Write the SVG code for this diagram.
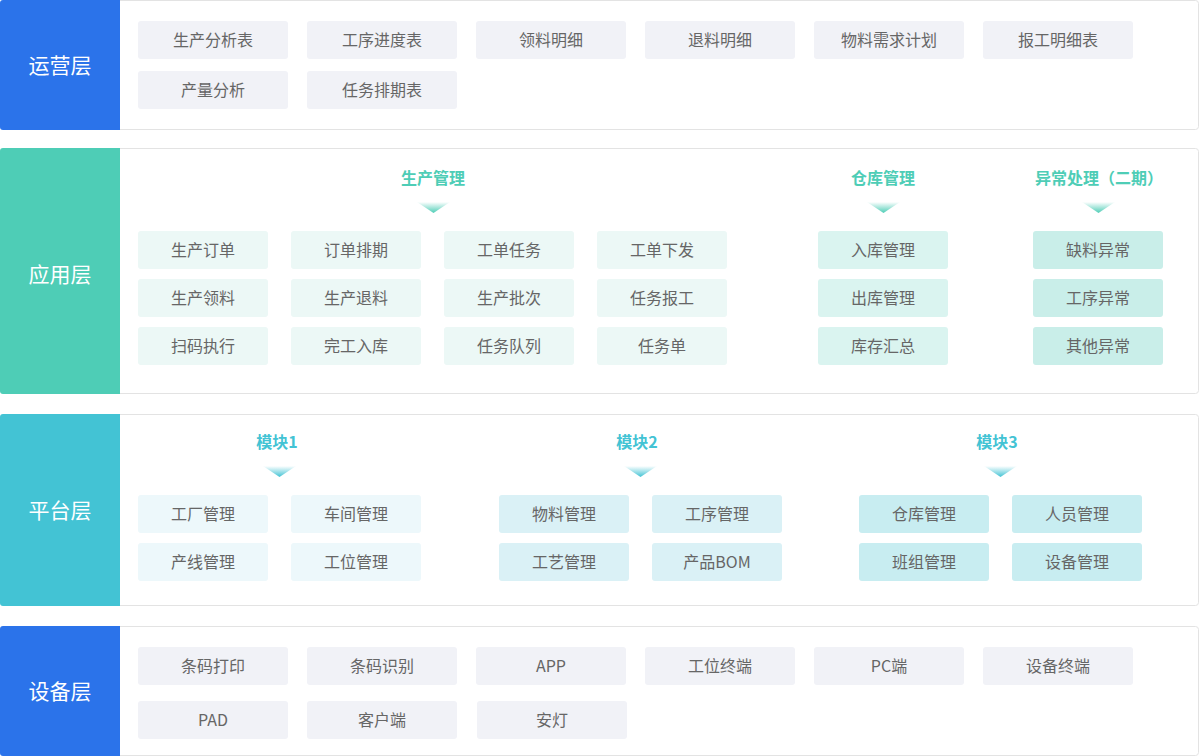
<svg xmlns="http://www.w3.org/2000/svg" width="1200" height="756" viewBox="0 0 1200 756">
<defs>
<style>
text{font-family:"Noto Sans CJK SC","Noto Sans",sans-serif;}
.frame{fill:#fff;stroke:#e3e3e3;stroke-width:1;}
.lab{fill:#fff;font-size:21px;text-anchor:middle;dominant-baseline:central;}
.t{fill:#666;font-size:16px;text-anchor:middle;dominant-baseline:central;}
.hg{fill:#4ecdb6;font-size:16px;font-weight:bold;text-anchor:middle;dominant-baseline:central;}
.hc{fill:#43c3d4;font-size:16px;font-weight:bold;text-anchor:middle;dominant-baseline:central;}
.g{fill:#f1f2f7;}
.a1{fill:#ecf8f6;}
.a2{fill:#daf4f0;}
.a3{fill:#c9eee9;}
.p1{fill:#edf8fb;}
.p2{fill:#daf1f6;}
.p3{fill:#c8edf1;}
</style>
<linearGradient id="gg" x1="0" y1="0" x2="0" y2="1">
<stop offset="0" stop-color="#4ecdb6" stop-opacity="0"/>
<stop offset="1" stop-color="#4ecdb6" stop-opacity="1"/>
</linearGradient>
<linearGradient id="gc" x1="0" y1="0" x2="0" y2="1">
<stop offset="0" stop-color="#43c3d4" stop-opacity="0"/>
<stop offset="1" stop-color="#43c3d4" stop-opacity="1"/>
</linearGradient>
</defs>

<!-- 运营层 -->
<g id="layer-ops">
<rect class="frame" x="100.5" y="0.5" width="1098" height="129" rx="3"/>
<path d="M3 0H120V130H3A3 3 0 0 1 0 127V3A3 3 0 0 1 3 0Z" fill="#2b73ea"/>
<text class="lab" x="60" y="64">运营层</text>
<g id="ops-1"><rect class="g" x="138" y="21" width="150" height="38" rx="3"/><text class="t" x="213" y="39">生产分析表</text></g>
<g id="ops-2"><rect class="g" x="307" y="21" width="150" height="38" rx="3"/><text class="t" x="382" y="39">工序进度表</text></g>
<g id="ops-3"><rect class="g" x="476" y="21" width="150" height="38" rx="3"/><text class="t" x="551" y="39">领料明细</text></g>
<g id="ops-4"><rect class="g" x="645" y="21" width="150" height="38" rx="3"/><text class="t" x="720" y="39">退料明细</text></g>
<g id="ops-5"><rect class="g" x="814" y="21" width="150" height="38" rx="3"/><text class="t" x="889" y="39">物料需求计划</text></g>
<g id="ops-6"><rect class="g" x="983" y="21" width="150" height="38" rx="3"/><text class="t" x="1058" y="39">报工明细表</text></g>
<g id="ops-7"><rect class="g" x="138" y="71" width="150" height="38" rx="3"/><text class="t" x="213" y="89">产量分析</text></g>
<g id="ops-8"><rect class="g" x="307" y="71" width="150" height="38" rx="3"/><text class="t" x="382" y="89">任务排期表</text></g>
</g>

<!-- 应用层 -->
<g id="layer-app">
<rect class="frame" x="100.5" y="148.5" width="1098" height="245" rx="3"/>
<path d="M3 148H120V394H3A3 3 0 0 1 0 391V151A3 3 0 0 1 3 148Z" fill="#4ecdb6"/>
<text class="lab" x="60" y="273">应用层</text>
<text class="hg" x="433" y="177">生产管理</text>
<text class="hg" x="883" y="177">仓库管理</text>
<text class="hg" x="1099" y="177">异常处理（二期）</text>
<path d="M417 202H450L433.5 213Z" fill="url(#gg)"/>
<path d="M867 202H900L883.5 213Z" fill="url(#gg)"/>
<path d="M1082 202H1115L1098.5 213Z" fill="url(#gg)"/>
<g id="app-1"><rect class="a1" x="138" y="231" width="130" height="38" rx="3"/><text class="t" x="203" y="249">生产订单</text></g>
<g id="app-2"><rect class="a1" x="291" y="231" width="130" height="38" rx="3"/><text class="t" x="356" y="249">订单排期</text></g>
<g id="app-3"><rect class="a1" x="444" y="231" width="130" height="38" rx="3"/><text class="t" x="509" y="249">工单任务</text></g>
<g id="app-4"><rect class="a1" x="597" y="231" width="130" height="38" rx="3"/><text class="t" x="662" y="249">工单下发</text></g>
<g id="app-5"><rect class="a1" x="138" y="279" width="130" height="38" rx="3"/><text class="t" x="203" y="297">生产领料</text></g>
<g id="app-6"><rect class="a1" x="291" y="279" width="130" height="38" rx="3"/><text class="t" x="356" y="297">生产退料</text></g>
<g id="app-7"><rect class="a1" x="444" y="279" width="130" height="38" rx="3"/><text class="t" x="509" y="297">生产批次</text></g>
<g id="app-8"><rect class="a1" x="597" y="279" width="130" height="38" rx="3"/><text class="t" x="662" y="297">任务报工</text></g>
<g id="app-9"><rect class="a1" x="138" y="327" width="130" height="38" rx="3"/><text class="t" x="203" y="345">扫码执行</text></g>
<g id="app-10"><rect class="a1" x="291" y="327" width="130" height="38" rx="3"/><text class="t" x="356" y="345">完工入库</text></g>
<g id="app-11"><rect class="a1" x="444" y="327" width="130" height="38" rx="3"/><text class="t" x="509" y="345">任务队列</text></g>
<g id="app-12"><rect class="a1" x="597" y="327" width="130" height="38" rx="3"/><text class="t" x="662" y="345">任务单</text></g>
<g id="app-13"><rect class="a2" x="818" y="231" width="130" height="38" rx="3"/><text class="t" x="883" y="249">入库管理</text></g>
<g id="app-14"><rect class="a2" x="818" y="279" width="130" height="38" rx="3"/><text class="t" x="883" y="297">出库管理</text></g>
<g id="app-15"><rect class="a2" x="818" y="327" width="130" height="38" rx="3"/><text class="t" x="883" y="345">库存汇总</text></g>
<g id="app-16"><rect class="a3" x="1033" y="231" width="130" height="38" rx="3"/><text class="t" x="1098" y="249">缺料异常</text></g>
<g id="app-17"><rect class="a3" x="1033" y="279" width="130" height="38" rx="3"/><text class="t" x="1098" y="297">工序异常</text></g>
<g id="app-18"><rect class="a3" x="1033" y="327" width="130" height="38" rx="3"/><text class="t" x="1098" y="345">其他异常</text></g>
</g>

<!-- 平台层 -->
<g id="layer-platform">
<rect class="frame" x="100.5" y="414.5" width="1098" height="191" rx="3"/>
<path d="M3 414H120V606H3A3 3 0 0 1 0 603V417A3 3 0 0 1 3 414Z" fill="#43c3d4"/>
<text class="lab" x="60" y="509">平台层</text>
<text class="hc" x="277" y="441">模块1</text>
<text class="hc" x="637" y="441">模块2</text>
<text class="hc" x="997" y="441">模块3</text>
<path d="M263 466H296L279.5 477Z" fill="url(#gc)"/>
<path d="M624 466H657L640.5 477Z" fill="url(#gc)"/>
<path d="M984 466H1017L1000.5 477Z" fill="url(#gc)"/>
<g id="plat-1"><rect class="p1" x="138" y="495" width="130" height="38" rx="3"/><text class="t" x="203" y="513">工厂管理</text></g>
<g id="plat-2"><rect class="p1" x="291" y="495" width="130" height="38" rx="3"/><text class="t" x="356" y="513">车间管理</text></g>
<g id="plat-3"><rect class="p1" x="138" y="543" width="130" height="38" rx="3"/><text class="t" x="203" y="561">产线管理</text></g>
<g id="plat-4"><rect class="p1" x="291" y="543" width="130" height="38" rx="3"/><text class="t" x="356" y="561">工位管理</text></g>
<g id="plat-5"><rect class="p2" x="499" y="495" width="130" height="38" rx="3"/><text class="t" x="564" y="513">物料管理</text></g>
<g id="plat-6"><rect class="p2" x="652" y="495" width="130" height="38" rx="3"/><text class="t" x="717" y="513">工序管理</text></g>
<g id="plat-7"><rect class="p2" x="499" y="543" width="130" height="38" rx="3"/><text class="t" x="564" y="561">工艺管理</text></g>
<g id="plat-8"><rect class="p2" x="652" y="543" width="130" height="38" rx="3"/><text class="t" x="717" y="561">产品BOM</text></g>
<g id="plat-9"><rect class="p3" x="859" y="495" width="130" height="38" rx="3"/><text class="t" x="924" y="513">仓库管理</text></g>
<g id="plat-10"><rect class="p3" x="1012" y="495" width="130" height="38" rx="3"/><text class="t" x="1077" y="513">人员管理</text></g>
<g id="plat-11"><rect class="p3" x="859" y="543" width="130" height="38" rx="3"/><text class="t" x="924" y="561">班组管理</text></g>
<g id="plat-12"><rect class="p3" x="1012" y="543" width="130" height="38" rx="3"/><text class="t" x="1077" y="561">设备管理</text></g>
</g>

<!-- 设备层 -->
<g id="layer-device">
<rect class="frame" x="100.5" y="626.5" width="1098" height="129" rx="3"/>
<path d="M3 626H120V756H3A3 3 0 0 1 0 753V629A3 3 0 0 1 3 626Z" fill="#2b73ea"/>
<text class="lab" x="60" y="690">设备层</text>
<g id="dev-1"><rect class="g" x="138" y="647" width="150" height="38" rx="3"/><text class="t" x="213" y="665">条码打印</text></g>
<g id="dev-2"><rect class="g" x="307" y="647" width="150" height="38" rx="3"/><text class="t" x="382" y="665">条码识别</text></g>
<g id="dev-3"><rect class="g" x="476" y="647" width="150" height="38" rx="3"/><text class="t" x="551" y="665">APP</text></g>
<g id="dev-4"><rect class="g" x="645" y="647" width="150" height="38" rx="3"/><text class="t" x="720" y="665">工位终端</text></g>
<g id="dev-5"><rect class="g" x="814" y="647" width="150" height="38" rx="3"/><text class="t" x="889" y="665">PC端</text></g>
<g id="dev-6"><rect class="g" x="983" y="647" width="150" height="38" rx="3"/><text class="t" x="1058" y="665">设备终端</text></g>
<g id="dev-7"><rect class="g" x="138" y="701" width="150" height="38" rx="3"/><text class="t" x="213" y="719">PAD</text></g>
<g id="dev-8"><rect class="g" x="307" y="701" width="150" height="38" rx="3"/><text class="t" x="382" y="719">客户端</text></g>
<g id="dev-9"><rect class="g" x="477" y="701" width="150" height="38" rx="3"/><text class="t" x="552" y="719">安灯</text></g>
</g>

<g id="connectors"></g>
</svg>
